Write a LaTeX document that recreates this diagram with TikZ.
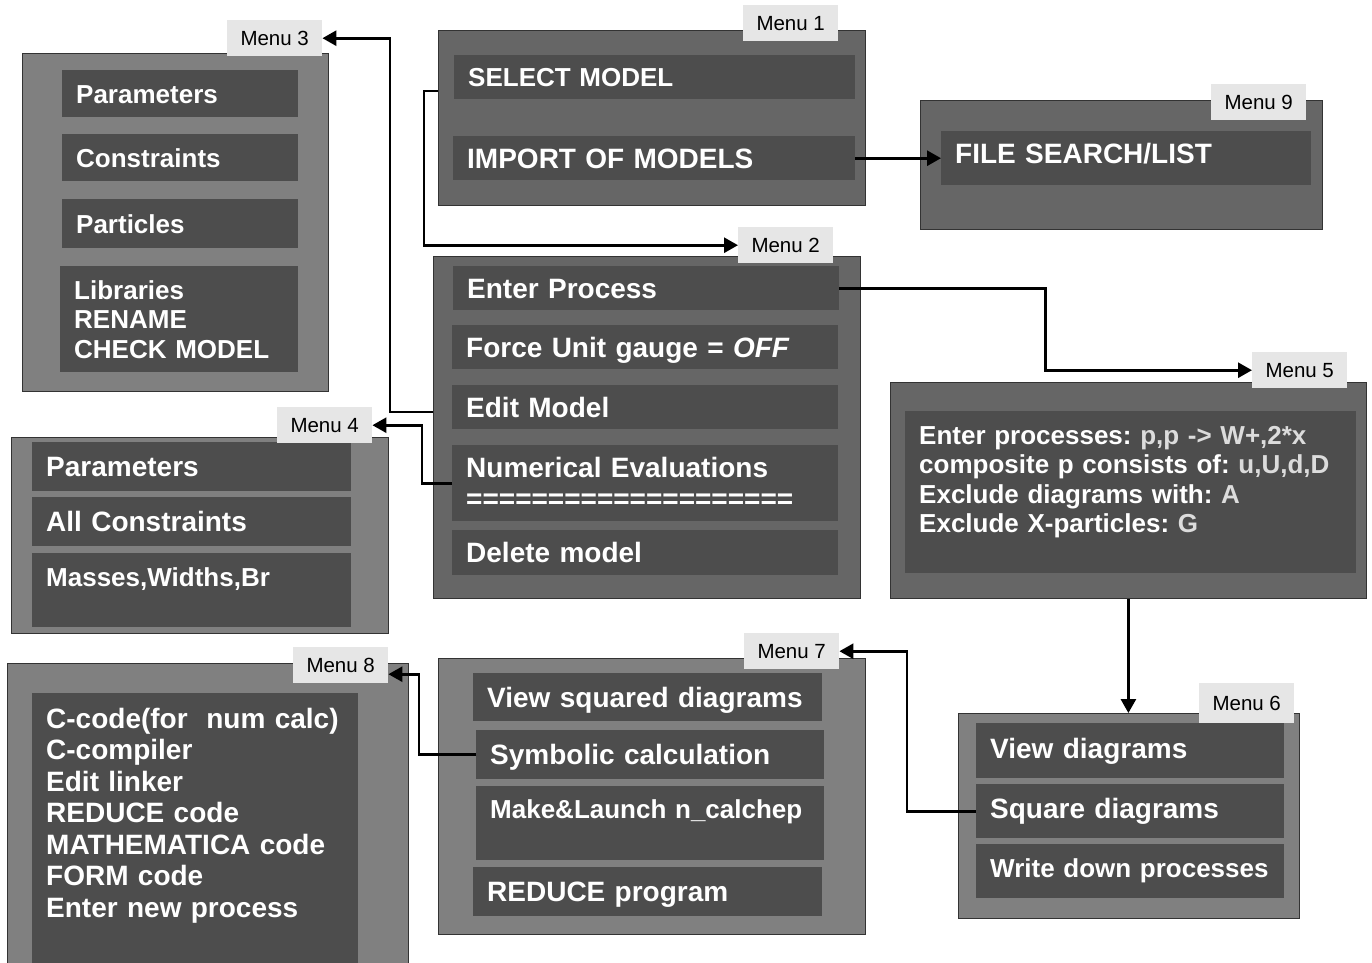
\documentclass[tikz,border=0pt]{standalone}
\usepackage{fontspec}
\setmainfont{Liberation Sans}
\usetikzlibrary{arrows.meta}
\definecolor{pdark}{HTML}{666666}
\definecolor{plight}{HTML}{808080}
\definecolor{itemgray}{HTML}{4D4D4D}
\definecolor{labelgray}{HTML}{E6E6E6}
\definecolor{valgray}{HTML}{DCDCDC}
\frenchspacing
\begin{document}
\begin{tikzpicture}[x=1pt,y=-1pt]
	\tikzstyle{every node}+=[inner sep=0pt]
	\tikzset{
	  panel/.style 2 args={draw=black!80, line width=0.8pt, anchor=north west, minimum width=#1pt, minimum height=#2pt},
	  box/.style 2 args={fill=itemgray, text=white, anchor=north west, inner xsep=14pt, align=left, text width=#1pt-28pt, minimum height=#2pt},
	  big/.style={font=\fontsize{28}{31.5}\selectfont\bfseries, text height=20pt, text depth=0pt},
	  mid/.style={font=\fontsize{26}{29.5}\selectfont\bfseries, text height=18.6pt, text depth=0pt},
	  menu/.style={fill=labelgray, anchor=north west, minimum width=95pt, minimum height=36pt, font=\fontsize{20.5}{24}\selectfont, text height=14.7pt, text depth=0pt},
	  conn/.style={line width=2.8pt, -{Triangle[length=14pt,width=15pt]}}
	}
	\useasboundingbox (0,0) rectangle (1372,962);
	\clip (0,0) rectangle (1372,962);
	% menu panels
	\node[panel={427}{175}, fill=pdark] (m1) at (438,30) {};
	\node[panel={402}{129}, fill=pdark] (m9) at (920,100) {};
	\node[panel={427}{342}, fill=pdark] (m2) at (433,256) {};
	\node[panel={306}{338}, fill=plight] (m3) at (22,53) {};
	\node[panel={377}{196}, fill=plight] (m4) at (11,437) {};
	\node[panel={476}{216}, fill=pdark] (m5) at (890,382) {};
	\node[panel={341}{205}, fill=plight] (m6) at (958,713) {};
	\node[panel={427}{276}, fill=plight] (m7) at (438,658) {};
	\node[panel={401}{330}, fill=plight] (m8) at (7,663) {};
	% menu entries
	\node[box={401}{44}, mid] (p1a) at (454,55) {SELECT MODEL};
	\node[box={402}{44}, big] (p1b) at (453,136) {IMPORT OF MODELS};
	\node[box={370}{54}, big, text depth=10pt] (p9) at (941,131) {FILE SEARCH/LIST};
	\node[box={386}{44}, big] (p2a) at (453,266) {Enter Process};
	\node[box={386}{44}, big] (p2b) at (452,325) {Force Unit gauge = \textit{OFF}};
	\node[box={386}{44}, big] (p2c) at (452,385) {Edit Model};
	\node[box={386}{76}, big, text depth=31.5pt] (p2d) at (452,445) {Numerical Evaluations\\====================};
	\node[box={386}{45}, big] (p2e) at (452,530) {Delete model};
	\node[box={236}{47}, mid] (p3a) at (62,70) {Parameters};
	\node[box={236}{47}, mid] (p3b) at (62,134) {Constraints};
	\node[box={236}{49}, mid] (p3c) at (62,199) {Particles};
	\node[box={238}{106}, mid, text depth=59pt] (p3d) at (60,266) {Libraries\\RENAME\\CHECK MODEL};
	\node[box={319}{49}, big] (p4a) at (32,442) {Parameters};
	\node[box={319}{49}, big] (p4b) at (32,497) {All Constraints};
	\node[box={319}{74}, mid, text height=33pt, text depth=41pt] (p4c) at (32,553) {Masses,Widths,Br};
	\node[box={451}{162}, mid, text height=33pt, text depth=129pt] (p5) at (905,411) {Enter processes: {\color{valgray}p,p -> W+,2*x}\\composite p consists of: {\color{valgray}u,U,d,D}\\Exclude diagrams with: {\color{valgray}A}\\Exclude X-particles: {\color{valgray}G}};
	\node[box={308}{55}, big, text depth=4pt] (p6a) at (976,723) {View diagrams};
	\node[box={308}{54}, big, text depth=5pt] (p6b) at (976,784) {Square diagrams};
	\node[box={308}{54}, mid, text depth=7pt] (p6c) at (976,844) {Write down processes};
	\node[box={349}{48}, big] (p7a) at (473,673) {View squared diagrams};
	\node[box={348}{49}, big] (p7b) at (476,730) {Symbolic calculation};
	\node[box={348}{74}, mid, text height=32pt, text depth=42pt] (p7c) at (476,786) {Make\&Launch n\_calchep};
	\node[box={349}{49}, big] (p7d) at (473,867) {REDUCE program};
	\node[box={326}{300}, big, text height=35pt, text depth=265pt] (p8) at (32,693) {C-code(for\ \ num calc)\\C-compiler\\Edit linker\\REDUCE code\\MATHEMATICA code\\FORM code\\Enter new process};
	% tabs
	\node[menu] (l1) at (743,5) {Menu 1};
	\node[menu] (l2) at (738,227) {Menu 2};
	\node[menu] (l3) at (227,20) {Menu 3};
	\node[menu] (l4) at (277,407) {Menu 4};
	\node[menu] (l5) at (1252,352) {Menu 5};
	\node[menu, minimum height=40pt] (l6) at (1199,683) {Menu 6};
	\node[menu] (l7) at (744,633) {Menu 7};
	\node[menu] (l8) at (293,647) {Menu 8};
	\node[menu] (l9) at (1211,84) {Menu 9};
	% links
	\draw[conn] ([yshift=-61pt]m1.north west) -- ++(-14,0) |- (l2.west);
	\draw[conn] (p1b.east) -- (p9.west);
	\draw[conn] ([yshift=-156pt]m2.north west) -- ++(-43,0) |- (l3.east);
	\draw[conn] (p2d.west) -- ++(-30,0) |- (l4.east);
	\draw[conn] (p2a.east) -- ++(206,0) |- (l5.west);
	\draw[conn] (m5.south) -- (m5.south |- m6.north);
	\draw[conn] (p6b.west) -- ++(-69,0) |- (l7.east);
	\draw[conn] (p7b.west) -- ++(-57,0) |- ([yshift=-9pt]l8.east);
\end{tikzpicture}
\end{document}
